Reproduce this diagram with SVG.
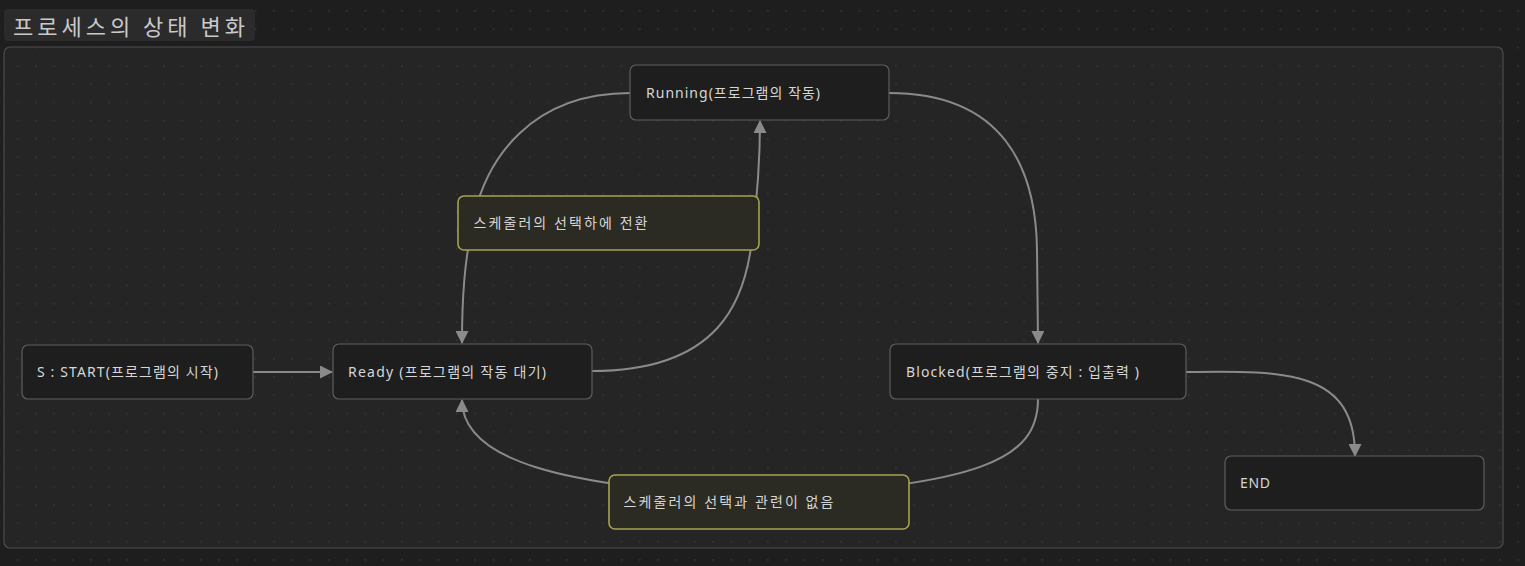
<svg xmlns="http://www.w3.org/2000/svg" width="1525" height="566" viewBox="0 0 1525 566">
<style>
.lbl{font-family:"Noto Sans","Noto Sans CJK KR",sans-serif;font-size:14px;fill:#d6d6d6}
.node rect{fill:#1e1e1e;stroke:#5e5e5e;stroke-width:1.2}
.note rect{fill:#2b2a23;stroke:#a6a24f;stroke-width:1.6}
.edge{fill:none;stroke:#8a8a8a;stroke-width:2}
</style>
<defs>
<pattern id="dots" x="16.7" y="10" width="18.3" height="18.3" patternUnits="userSpaceOnUse">
<circle cx="0.9" cy="0.9" r="0.9" fill="#383838"/>
</pattern>
<marker id="arr" viewBox="0 0 13 13" refX="12" refY="6.5" markerWidth="13" markerHeight="13" markerUnits="userSpaceOnUse" orient="auto">
<path d="M0,0 L13,6.5 L0,13 Z" fill="#8a8a8a"/>
</marker>
</defs>
<rect width="1525" height="566" fill="#1e1e1e"/>
<rect width="1525" height="566" fill="url(#dots)"/>
<rect x="4" y="47" width="1499" height="501" rx="6" fill="#252525" stroke="#4c4c4c" stroke-width="1.2"/>
<rect x="4" y="47" width="1499" height="501" rx="6" fill="url(#dots)"/>
<g id="title">
<rect x="4" y="9" width="251" height="32" rx="4" fill="#2b2b2b"/>
<text x="13" y="35" font-family="Noto Sans CJK KR, Noto Sans, sans-serif" font-size="22" fill="#c9c9c9" textLength="232" lengthAdjust="spacing">프로세스의 상태 변화</text>
</g>
<g id="connectors">
<path class="edge" d="M253,372 L332,372" marker-end="url(#arr)"/>
<path class="edge" d="M592,371 C720,371 745,300 752,240 C757,200 760,160 760,121" marker-end="url(#arr)"/>
<path class="edge" d="M630,93 C530,93 487,160 474,216 C464,262 462,300 462,343" marker-end="url(#arr)"/>
<path class="edge" d="M889,93 C1005,93 1036,170 1037,250 L1038,343" marker-end="url(#arr)"/>
<path class="edge" d="M1038,399 C1038,460 980,485 760,497 C560,487 462,460 462,400" marker-end="url(#arr)"/>
<path class="edge" d="M1186,372 C1290,370 1355,372 1355,456" marker-end="url(#arr)"/>
</g>
<g id="start" class="node">
<rect x="22" y="345" width="231" height="54" rx="6"/>
<text class="lbl" x="37" y="377" textLength="181" lengthAdjust="spacing">S : START(프로그램의 시작)</text>
</g>
<g id="ready" class="node">
<rect x="333" y="344" width="259" height="55" rx="6"/>
<text class="lbl" x="348" y="376.5" textLength="198" lengthAdjust="spacing">Ready (프로그램의 작동 대기)</text>
</g>
<g id="running" class="node">
<rect x="630" y="65" width="259" height="55" rx="6"/>
<text class="lbl" x="646" y="97.5" textLength="174" lengthAdjust="spacing">Running(프로그램의 작동)</text>
</g>
<g id="blocked" class="node">
<rect x="890" y="344" width="296" height="55" rx="6"/>
<text class="lbl" x="906" y="376.5" textLength="233" lengthAdjust="spacing">Blocked(프로그램의 중지 : 입출력 )</text>
</g>
<g id="end" class="node">
<rect x="1225" y="456" width="259" height="54" rx="6"/>
<text class="lbl" x="1240" y="488" textLength="30" lengthAdjust="spacing">END</text>
</g>
<g id="note1" class="note">
<rect x="458" y="196" width="301" height="54" rx="6"/>
<text class="lbl" x="473.5" y="228" textLength="174" lengthAdjust="spacing">스케줄러의 선택하에 전환</text>
</g>
<g id="note2" class="note">
<rect x="609" y="475" width="300" height="54" rx="6"/>
<text class="lbl" x="623.5" y="507" textLength="210" lengthAdjust="spacing">스케줄러의 선택과 관련이 없음</text>
</g>
</svg>
